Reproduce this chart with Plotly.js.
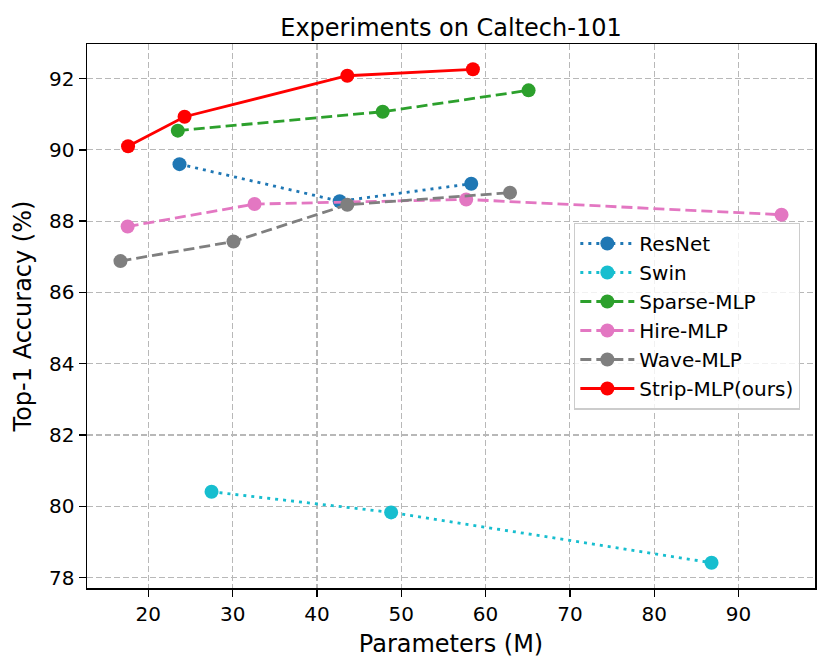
<!DOCTYPE html>
<html>
<head>
<meta charset="utf-8">
<script src="https://cdn.plot.ly/plotly-3.0.1.min.js"></script>
<style>
  body { margin: 0; background: #ffffff; }
  #graph { width: 830px; height: 669px; }
</style>
</head>
<body>
<div id="graph"></div>
<script>
// values
const resnetParams = [23.7, 42.7, 58.3];
const resnetAcc = [89.6, 88.56, 89.05];

const swinParams = [27.5, 48.8, 86.8];
const swinAcc = [80.41, 79.83, 78.42];

const sparseParams = [23.5, 47.8, 65.1];
const sparseAcc = [90.54, 91.07, 91.67];

const hireParams = [17.55, 32.6, 57.7, 95.1];
const hireAcc = [87.85, 88.48, 88.61, 88.18];

const waveParams = [16.7, 30.1, 43.6, 62.9];
const waveAcc = [86.88, 87.43, 88.46, 88.8];

const stripParams = [17.6, 24.3, 43.6, 58.5];
const stripAcc = [90.1, 90.93, 92.08, 92.26];

const xTicks = [20, 30, 40, 50, 60, 70, 80, 90];
const yTicks = [78, 80, 82, 84, 86, 88, 90, 92];

document.addEventListener('DOMContentLoaded', function(event)
{
  displayPlot("graph");
});

// one line + marker series
function makeSeries(name, xs, ys, color, dash)
{
  return {
    name: name,
    x: xs,
    y: ys,
    type: 'scatter',
    mode: 'lines+markers',
    line: { color: color, width: 2.8, dash: dash },
    marker: { color: color, size: 14 }
  };
}

function displayPlot(divPlot)
{
  const fontName = "DejaVu Sans, sans-serif";

  let layout =
  {
    width: 830,
    height: 669,
    margin: { l: 87, r: 15, t: 44, b: 81 },
    paper_bgcolor: '#ffffff',
    plot_bgcolor: '#ffffff',
    font: { family: fontName, size: 20, color: '#000000' },
    title:
    {
      text: 'Experiments on Caltech-101',
      font: { family: fontName, size: 24, color: '#000000' },
      x: 0.5,
      xref: 'paper',
      y: 1,
      yref: 'paper',
      yanchor: 'bottom',
      pad: { b: 8 }
    },
    xaxis:
    {
      range: [12.73, 99.07],
      autorange: false,
      tickvals: xTicks,
      ticktext: xTicks.map(String),
      ticks: 'outside',
      ticklen: 7,
      tickwidth: 1.4,
      tickcolor: '#000000',
      showline: true,
      linecolor: '#000000',
      linewidth: 1.5,
      mirror: true,
      showgrid: true,
      gridcolor: '#b8b8b8',
      gridwidth: 1.2,
      griddash: '6px,3px',
      zeroline: false,
      tickfont: { size: 20 },
      title: { text: 'Parameters (M)', font: { size: 24 }, standoff: 10 }
    },
    yaxis:
    {
      range: [77.71, 92.97],
      autorange: false,
      tickvals: yTicks,
      ticktext: yTicks.map(String),
      ticks: 'outside',
      ticklen: 7,
      tickwidth: 1.4,
      tickcolor: '#000000',
      showline: true,
      linecolor: '#000000',
      linewidth: 1.5,
      mirror: true,
      showgrid: true,
      gridcolor: '#b8b8b8',
      gridwidth: 1.2,
      griddash: '6px,3px',
      zeroline: false,
      tickfont: { size: 20 },
      title: { text: 'Top-1 Accuracy (%)', font: { size: 24 }, standoff: 10 }
    },
    legend:
    {
      x: 0.669,
      y: 0.6715,
      xanchor: 'left',
      yanchor: 'top',
      bgcolor: 'rgba(255,255,255,0.8)',
      bordercolor: '#cccccc',
      borderwidth: 1.3,
      font: { family: fontName, size: 20, color: '#000000' },
      itemwidth: 54
    },
    showlegend: true
  };

  let plotData = [];
  plotData.push(makeSeries('ResNet', resnetParams, resnetAcc, '#1f77b4', '3px,5px'));
  plotData.push(makeSeries('Swin', swinParams, swinAcc, '#17becf', '3px,5px'));
  plotData.push(makeSeries('Sparse-MLP', sparseParams, sparseAcc, '#2ca02c', '11px,5px'));
  plotData.push(makeSeries('Hire-MLP', hireParams, hireAcc, '#e377c2', '11px,5px'));
  plotData.push(makeSeries('Wave-MLP', waveParams, waveAcc, '#7f7f7f', '11px,5px'));
  plotData.push(makeSeries('Strip-MLP(ours)', stripParams, stripAcc, '#ff0000', 'solid'));

  Plotly.newPlot(divPlot, plotData, layout, { displayModeBar: false, staticPlot: true });
}
</script>
</body>
</html>
